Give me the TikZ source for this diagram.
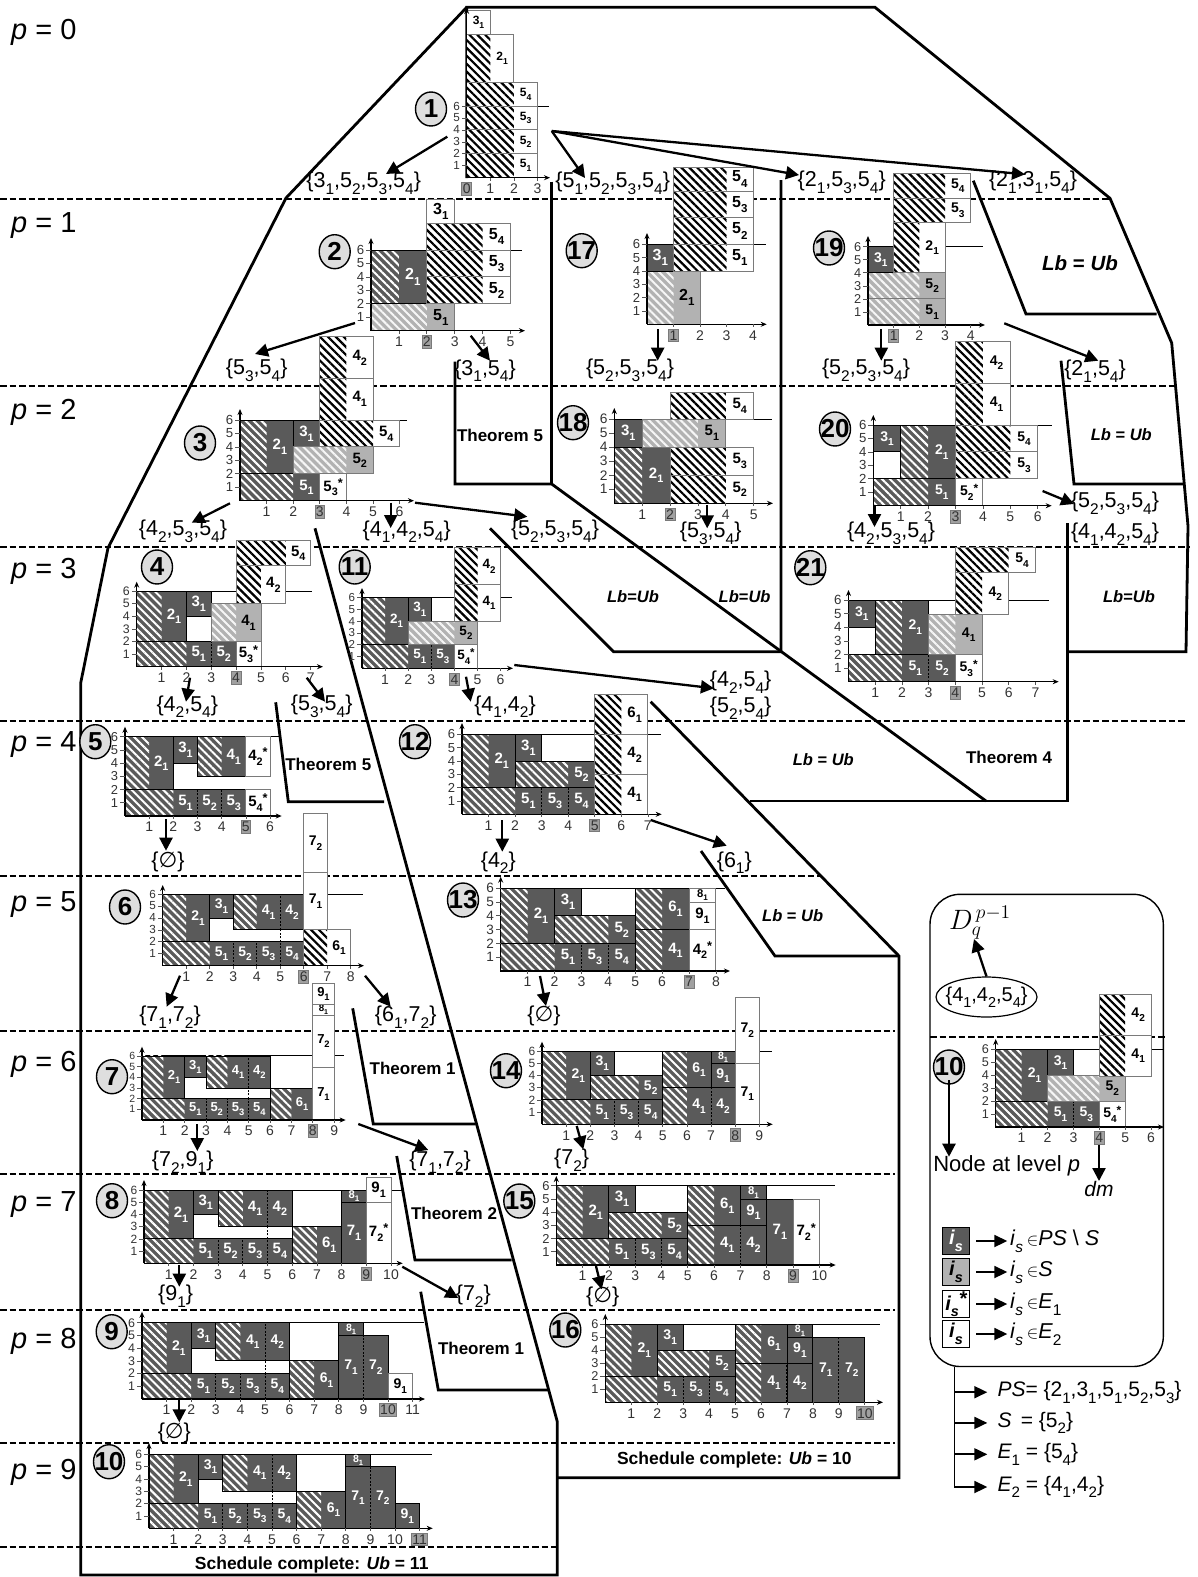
\documentclass[tikz,border=0pt]{standalone}
\usepackage{fontspec}
\setmainfont{Liberation Sans}
\newfontfamily\djf{DejaVu Sans}
\usetikzlibrary{arrows.meta,patterns.meta,shapes.geometric}
\definecolor{dk}{HTML}{5A5A5A}
\definecolor{lt}{HTML}{B2B2B2}
\definecolor{bd}{HTML}{7A7A7A}
\newcounter{nn}
\newcommand\fsz[1]{\fontsize{#1}{#1}\selectfont}
\newcommand\sB[1]{\raisebox{-.32em}{\scalebox{.72}{#1}}}
\newcommand\Emp{{\djf\char"2205}}
\def\stx{}
\def\lbs{14}
% job box: factor, x1,x2,y1,y2,hatch end,a,b
\newcommand\jobb[8]{%
 \fill[\fc] (#2,#4) rectangle (#3,#5);
 \ifdim #6pt>#2pt
  \fill[pattern={Lines[angle=-45,distance=5.6pt,line width=\sw pt]},pattern color=\sc] (#2,#4) rectangle (#6,#5);
 \fi
 \draw[\bc,line width=.9pt] (#2,#4) rectangle (#3,#5);
 \pgfmathsetmacro\fs{\lbs*#1}%
 \stepcounter{nn}%
 \node[inner sep=0pt,text=\tc,font=\fsz{\fs}\bfseries] (n\arabic{nn}) at ({(#6+#3)/2},{(#4+#5)/2}) {#7\sB{#8}\stx};
 \gdef\stx{}%
}
\newcommand\D[7][1]{\def\fc{dk}\def\sc{white}\def\tc{white}\def\bc{black}\def\sw{2}\jobb{#1}{#2}{#3}{#4}{#5}{#6}{#7}}
\newcommand\Lt[7][1]{\def\fc{lt}\def\sc{white!88!lt}\def\tc{black}\def\bc{bd}\def\sw{2}\jobb{#1}{#2}{#3}{#4}{#5}{#6}{#7}}
\newcommand\W[7][1]{\def\fc{white}\def\sc{black}\def\tc{black}\def\bc{bd}\def\sw{2.2}\jobb{#1}{#2}{#3}{#4}{#5}{#6}{#7}}
\newcommand\Ws[6]{\gdef\stx{\raisebox{.25em}{\scalebox{.85}{*}}}\W{#1}{#2}{#3}{#4}{#1}{#5}{#6}}
\newcommand\sep[3]{\draw[dk,line width=1pt] (#1,#2) -- (#1,#3);\draw[black,line width=1pt,dash pattern=on 2pt off 1.5pt] (#1,#2) -- (#1,#3);}
\newcommand\wsep[3]{\draw[black,line width=1pt,dash pattern=on 2pt off 1.5pt] (#1,#2) -- (#1,#3);}
% ox oy ux uy labelsize capend
\newcommand\chartbegin[6]{%
 \def\ox{#1}\def\oy{#2}\def\ux{#3}\def\uy{#4}\def\lbs{#5}%
 \begin{scope}[shift={(#1,#2)},x=#3pt,y=#4pt]
 \draw[black,line width=1pt] (0,6) -- ({(#6-#1)/#3},6);
}
% nmax dm xend ytop
\newcommand\chartend[4]{%
 \pgfmathsetmacro\tf{min(14,\uy*0.98)}%
 \draw[line width=1.5pt,-{Stealth[length=6pt,width=5pt]}] (0,0) -- ({(#3-\ox)/\ux},0);
 \draw[line width=1.5pt,-{Stealth[length=6pt,width=5pt]}] (0,0) -- (0,{(\oy-#4)/\uy});
 \foreach \yy in {1,...,6}{%
  \stepcounter{nn}%
  \draw[bd!70!black,line width=.7pt] (0,\yy) -- ++(-5pt,0) node[left,inner ysep=0pt,inner xsep=1.5pt,text=black!80,font=\fsz{\tf}] (n\arabic{nn}) {\yy};}
 \foreach \xx in {1,...,#1}{%
  \draw[bd!70!black,line width=.7pt] (\xx,0) -- ++(0,-3pt);
  \ifnum\xx=#2\relax\else
  \stepcounter{nn}%
  \node[inner sep=0pt,text=black!80,font=\fsz{14}] (n\arabic{nn}) at ([yshift=-11pt]\xx,0) {\xx};
  \fi}
 \stepcounter{nn}%
 \node[draw=bd,fill=lt!90!black,inner xsep=1pt,inner ysep=1.5pt,line width=.8pt,text=black!80,font=\fsz{14}] (n\arabic{nn}) at ([yshift=-11pt]#2,0) {#2};
 \end{scope}
}
\newcommand\Num[3]{\stepcounter{nn}\node[numc] (n\arabic{nn}) at (#1,#2) {#3};}
\newcommand\SL[3]{\stepcounter{nn}\node[setl] (n\arabic{nn}) at (#1,#2) {#3};}
\newcommand\TL[4]{\stepcounter{nn}\node[inner sep=0pt,font=\fsz{#3}\bfseries] (n\arabic{nn}) at (#1,#2) {#4};}
\newcommand\PL[2]{\stepcounter{nn}\node[anchor=west,inner sep=0pt,font=\fsz{29}] (n\arabic{nn}) at (11,#1) {\textit{p} = #2};}
\newcommand\Ar[4]{\stepcounter{nn}\coordinate (a\arabic{nn}) at (#1,#2);\coordinate (b\arabic{nn}) at (#3,#4);\draw[arr] (a\arabic{nn}) -- (b\arabic{nn});}
\newcommand\Lev[3]{\draw[lev] (#1,#3) -- (#2,#3);}
\newcommand\Sa[2]{#1\sB{#2}}
\begin{document}
\begin{tikzpicture}[x=1pt,y=-1pt,
 lev/.style={line width=1.8pt,dash pattern=on 6.5pt off 3pt},
 wall/.style={line width=2.8pt,line join=miter},
 arr/.style={line width=2.3pt,-{Triangle[length=13pt,width=13pt]}},
 numc/.style={ellipse,draw=black,line width=1.4pt,fill=black!13,minimum width=31pt,minimum height=34pt,inner sep=-5pt,font=\fsz{26}\bfseries},
 setl/.style={inner sep=0pt,font=\fsz{21.5}}]
\useasboundingbox (0,0) rectangle (1197,1577);
\fill[white] (0,0) rectangle (1197,1577);
% levels
\Lev{0}{1110}{199.3}\Lev{0}{1175}{385.7}\Lev{0}{1190}{546.7}\Lev{0}{1187}{720.7}
\Lev{0}{822}{876}\Lev{0}{895}{1031}\Lev{0}{895}{1173.7}\Lev{0}{895}{1310}\Lev{0}{895}{1443.3}\Lev{0}{556}{1546.7}
\Lev{930}{1166}{1037}
\PL{32}{0}\PL{226}{1}\PL{412}{2}\PL{571}{3}\PL{745}{4}\PL{905}{5}\PL{1064}{6}\PL{1205}{7}\PL{1341}{8}\PL{1472}{9}
% walls
\draw[wall] (466.7,178) -- (466.7,7.3) -- (875,7.3) -- (1110,198.3) -- (1171.7,343) -- (1188,526) -- (1186,651.7) -- (1067.4,651.7);
\draw[wall] (466.7,7.3) -- (286,198) -- (108,548) -- (80.7,683) -- (80.7,1575) -- (557.3,1575) -- (557.3,1421.7) -- (315,528.3);
\draw[wall] (973.3,180.7) -- (1026,314) -- (1156.7,314);
\draw[wall] (1061,360.7) -- (1074,484) -- (1183,484);
\draw[wall] (1067.4,523.3) -- (1067.4,801) -- (750,801);
\draw[wall] (455,361.7) -- (455,484) -- (551.7,484) -- (986,801);
\draw[wall] (551.3,181.7) -- (551.3,484);
\draw[wall] (781,180) -- (781,651.7) -- (613.5,651.7) -- (490,528.3);
\draw[wall] (275.7,702.3) -- (288.3,801.7) -- (384,801.7);
\draw[wall] (352.7,1008.3) -- (373.3,1124) -- (475.7,1124);
\draw[wall] (396.7,1156) -- (415,1260) -- (511.7,1260);
\draw[wall] (420.7,1291.7) -- (438.3,1390) -- (548.3,1390);
\draw[wall] (650.7,701.7) -- (899,956) -- (899,1477.7) -- (556.7,1477.7);
\draw[wall] (701,851) -- (775,956) -- (899,956);
% chart 1
\chartbegin{466.7}{177.7}{23.6}{11.95}{12}{549}
\W{0}{3}{0}{2}{2}{5}{1}\W{0}{3}{2}{4}{2}{5}{2}\W{0}{3}{4}{6}{2}{5}{3}\W{0}{3}{6}{8}{2}{5}{4}
\W{0}{2}{8}{12}{1}{2}{1}\W{0}{1}{12}{14}{0}{3}{1}
\chartend{3}{0}{550}{8}
% chart 2
\chartbegin{371}{330.7}{27.9}{13.44}{16}{522}
\Lt{0}{3}{0}{2}{2}{5}{1}\D{0}{2}{2}{6}{1}{2}{1}\W{2}{5}{2}{4}{4}{5}{2}\W{2}{5}{4}{6}{4}{5}{3}\W{2}{5}{6}{8}{4}{5}{4}\W{2}{3}{8}{9.8}{2}{3}{1}
\chartend{5}{2}{525}{238}
% chart 3
\chartbegin{240}{500.7}{26.6}{13.44}{15}{407}
\D{0}{3}{0}{2}{2}{5}{1}\Ws{3}{4}{0}{2}{5}{3}\D{0}{2}{2}{6}{1}{2}{1}\D{2}{3}{4}{6}{2}{3}{1}\Lt{2}{5}{2}{4}{4}{5}{2}
\W{3}{6}{4}{6}{5}{5}{4}\W{3}{5}{6}{9.1}{4}{4}{1}\W{3}{5}{9.1}{12.2}{4}{4}{2}
\chartend{6}{3}{414}{409}
% chart 4
\chartbegin{136.7}{666.7}{24.85}{12.6}{15}{311.7}
\D{0}{3}{0}{2}{2}{5}{1}\D{3}{4}{0}{2}{3}{5}{2}\sep{3}{0}{2}\Ws{4}{5}{0}{2}{5}{3}\D{0}{2}{2}{6}{1}{2}{1}\D{2}{3}{4}{6}{2}{3}{1}
\Lt{3}{5}{2}{5}{4}{4}{1}\W{4}{6}{5}{8}{5}{4}{2}\W{4}{7}{8}{10}{6}{5}{4}
\chartend{7}{4}{323}{581.7}
% chart 11
\chartbegin{362}{668.3}{23.1}{11.8}{13.5}{512}
\D{0}{3}{0}{2}{2}{5}{1}\D{3}{4}{0}{2}{3}{5}{3}\sep{3}{0}{2}\Ws{4}{5}{0}{2}{5}{4}\D{0}{2}{2}{6}{1}{2}{1}\D{2}{3}{4}{6}{2}{3}{1}
\Lt{2}{5}{2}{4}{4}{5}{2}\W{4}{6}{4}{7.1}{5}{4}{1}\W{4}{6}{7.1}{10.2}{5}{4}{2}
\chartend{6}{4}{513}{588}
% chart 5
\chartbegin{125}{816}{24.17}{13.2}{15}{280}
\D{0}{3}{0}{2}{2}{5}{1}\D{3}{4}{0}{2}{3}{5}{2}\D{4}{5}{0}{2}{4}{5}{3}\sep{3}{0}{2}\sep{4}{0}{2}\Ws{5}{6}{0}{2}{5}{4}
\D{0}{2}{2}{6}{1}{2}{1}\D{2}{3}{4}{6}{2}{3}{1}\D{3}{5}{3}{6}{4}{4}{1}\Ws{5}{6}{3}{6}{4}{2}
\chartend{6}{5}{281.7}{726.7}
% chart 12
\chartbegin{462}{814.3}{26.55}{13.3}{15}{661}
\D{0}{3}{0}{2}{2}{5}{1}\D{3}{4}{0}{2}{3}{5}{3}\D{4}{5}{0}{2}{4}{5}{4}\sep{3}{0}{2}\sep{4}{0}{2}\D{0}{2}{2}{6}{1}{2}{1}\D{2}{3}{4}{6}{2}{3}{1}\D{2}{5}{2}{4}{4}{5}{2}
\W{5}{7}{0}{3}{6}{4}{1}\W{5}{7}{3}{6}{6}{4}{2}\W{5}{7}{6}{9}{6}{6}{1}
\chartend{7}{5}{661.7}{723}
% chart 6
\chartbegin{162.7}{965.7}{23.5}{11.94}{14}{362.7}
\D{0}{3}{0}{2}{2}{5}{1}\D{3}{4}{0}{2}{3}{5}{2}\D{4}{5}{0}{2}{4}{5}{3}\D{5}{6}{0}{2}{5}{5}{4}\sep{3}{0}{2}\sep{4}{0}{2}\sep{5}{0}{2}
\D{0}{2}{2}{6}{1}{2}{1}\D{2}{3}{4}{6}{2}{3}{1}\D{3}{5}{3}{6}{4}{4}{1}\D{5}{6}{3}{6}{5}{4}{2}\sep{5}{3}{6}\wsep{5}{2}{3}
\W{6}{8}{0}{3}{7}{6}{1}\W{6}{7}{3}{7.8}{6}{7}{1}\W{6}{7}{7.8}{12.76}{6}{7}{2}
\chartend{8}{6}{364}{885}
% chart 13
\chartbegin{500.7}{971}{26.9}{13.8}{15}{725}
\D{0}{3}{0}{2}{2}{5}{1}\D{3}{4}{0}{2}{3}{5}{3}\D{4}{5}{0}{2}{4}{5}{4}\sep{3}{0}{2}\sep{4}{0}{2}\D{0}{2}{2}{6}{1}{2}{1}\D{2}{3}{4}{6}{2}{3}{1}\D{2}{5}{2}{4}{4}{5}{2}
\D{5}{7}{0}{3}{6}{4}{1}\D{5}{7}{3}{6}{6}{6}{1}\Ws{7}{8}{0}{3}{4}{2}\W{7}{8}{3}{5}{7}{9}{1}\W[.75]{7}{8}{5}{6}{7}{8}{1}
\chartend{8}{7}{730}{876.7}
% chart 7
\chartbegin{142}{1120}{21.35}{10.67}{13}{344}
\D{0}{3}{0}{2}{2}{5}{1}\D{3}{4}{0}{2}{3}{5}{2}\D{4}{5}{0}{2}{4}{5}{3}\D{5}{6}{0}{2}{5}{5}{4}\sep{3}{0}{2}\sep{4}{0}{2}\sep{5}{0}{2}
\D{0}{2}{2}{6}{1}{2}{1}\D{2}{3}{4}{6}{2}{3}{1}\D{3}{5}{3}{6}{4}{4}{1}\D{5}{6}{3}{6}{5}{4}{2}\sep{5}{3}{6}\wsep{5}{2}{3}\D{6}{8}{0}{3}{7}{6}{1}
\W{8}{9}{0}{4.9}{8}{7}{1}\W{8}{9}{4.9}{9.84}{8}{7}{2}\W[.75]{8}{9}{9.84}{10.8}{8}{8}{1}\W{8}{9}{10.8}{12.8}{8}{9}{1}
\chartend{9}{8}{345.7}{1046.7}
% chart 14
\chartbegin{542}{1124.3}{24.15}{12.2}{14}{772}
\D{0}{3}{0}{2}{2}{5}{1}\D{3}{4}{0}{2}{3}{5}{3}\D{4}{5}{0}{2}{4}{5}{4}\sep{3}{0}{2}\sep{4}{0}{2}\D{0}{2}{2}{6}{1}{2}{1}\D{2}{3}{4}{6}{2}{3}{1}\D{2}{5}{2}{4}{4}{5}{2}
\D{5}{7}{0}{3}{6}{4}{1}\D{7}{8}{0}{3}{7}{4}{2}\sep{7}{0}{3}\D{5}{7}{3}{6}{6}{6}{1}\D{7}{8}{3}{5}{7}{9}{1}\D[.75]{7}{8}{5}{6}{7}{8}{1}
\W{8}{9}{0}{5}{8}{7}{1}\W{8}{9}{5}{10.4}{8}{7}{2}
\chartend{9}{8}{772.7}{1041.7}
% chart 8
\chartbegin{144}{1263.3}{24.7}{12.2}{15}{401.7}
\D{0}{3}{0}{2}{2}{5}{1}\D{3}{4}{0}{2}{3}{5}{2}\D{4}{5}{0}{2}{4}{5}{3}\D{5}{6}{0}{2}{5}{5}{4}\sep{3}{0}{2}\sep{4}{0}{2}\sep{5}{0}{2}
\D{0}{2}{2}{6}{1}{2}{1}\D{2}{3}{4}{6}{2}{3}{1}\D{3}{5}{3}{6}{4}{4}{1}\D{5}{6}{3}{6}{5}{4}{2}\sep{5}{3}{6}\wsep{5}{2}{3}\D{6}{8}{0}{3}{7}{6}{1}
\D{8}{9}{0}{5}{8}{7}{1}\D[.75]{8}{9}{5}{6}{8}{8}{1}\Ws{9}{10}{0}{5}{7}{2}\W{9}{10}{5}{7}{9}{9}{1}
\chartend{10}{9}{402.7}{1180}
% chart 15
\chartbegin{556.3}{1265}{26.3}{13.2}{15}{835}
\D{0}{3}{0}{2}{2}{5}{1}\D{3}{4}{0}{2}{3}{5}{3}\D{4}{5}{0}{2}{4}{5}{4}\sep{3}{0}{2}\sep{4}{0}{2}\D{0}{2}{2}{6}{1}{2}{1}\D{2}{3}{4}{6}{2}{3}{1}\D{2}{5}{2}{4}{4}{5}{2}
\D{5}{7}{0}{3}{6}{4}{1}\D{7}{8}{0}{3}{7}{4}{2}\sep{7}{0}{3}\D{5}{7}{3}{6}{6}{6}{1}\D{7}{8}{3}{5}{7}{9}{1}\D[.75]{7}{8}{5}{6}{7}{8}{1}
\D{8}{9}{0}{5}{8}{7}{1}\Ws{9}{10}{0}{5}{7}{2}
\chartend{10}{9}{835.7}{1176}
% chart 9
\chartbegin{142}{1399}{24.6}{12.7}{14}{424}
\D{0}{3}{0}{2}{2}{5}{1}\D{3}{4}{0}{2}{3}{5}{2}\D{4}{5}{0}{2}{4}{5}{3}\D{5}{6}{0}{2}{5}{5}{4}\sep{3}{0}{2}\sep{4}{0}{2}\sep{5}{0}{2}
\D{0}{2}{2}{6}{1}{2}{1}\D{2}{3}{4}{6}{2}{3}{1}\D{3}{5}{3}{6}{4}{4}{1}\D{5}{6}{3}{6}{5}{4}{2}\sep{5}{3}{6}\wsep{5}{2}{3}\D{6}{8}{0}{3}{7}{6}{1}
\D{8}{9}{0}{5}{8}{7}{1}\D[.75]{8}{9}{5}{6}{8}{8}{1}\D{9}{10}{0}{5}{9}{7}{2}\sep{9}{0}{5}\W{10}{11}{0}{2}{10}{9}{1}
\chartend{11}{10}{425}{1311.7}
% chart 10
\chartbegin{149}{1528.3}{24.6}{12.33}{14}{432}
\D{0}{3}{0}{2}{2}{5}{1}\D{3}{4}{0}{2}{3}{5}{2}\D{4}{5}{0}{2}{4}{5}{3}\D{5}{6}{0}{2}{5}{5}{4}\sep{3}{0}{2}\sep{4}{0}{2}\sep{5}{0}{2}
\D{0}{2}{2}{6}{1}{2}{1}\D{2}{3}{4}{6}{2}{3}{1}\D{3}{5}{3}{6}{4}{4}{1}\D{5}{6}{3}{6}{5}{4}{2}\sep{5}{3}{6}\wsep{5}{2}{3}\D{6}{8}{0}{3}{7}{6}{1}
\D{8}{9}{0}{5}{8}{7}{1}\D[.75]{8}{9}{5}{6}{8}{8}{1}\D{9}{10}{0}{5}{9}{7}{2}\sep{9}{0}{5}\D{10}{11}{0}{2}{10}{9}{1}
\chartend{11}{11}{432.7}{1443}
% chart 16
\chartbegin{605.3}{1402.3}{25.95}{13}{14}{880}
\D{0}{3}{0}{2}{2}{5}{1}\D{3}{4}{0}{2}{3}{5}{3}\D{4}{5}{0}{2}{4}{5}{4}\sep{3}{0}{2}\sep{4}{0}{2}\D{0}{2}{2}{6}{1}{2}{1}\D{2}{3}{4}{6}{2}{3}{1}\D{2}{5}{2}{4}{4}{5}{2}
\D{5}{7}{0}{3}{6}{4}{1}\D{7}{8}{0}{3}{7}{4}{2}\sep{7}{0}{3}\D{5}{7}{3}{6}{6}{6}{1}\D{7}{8}{3}{5}{7}{9}{1}\D[.75]{7}{8}{5}{6}{7}{8}{1}
\D{8}{9}{0}{5}{8}{7}{1}\D{9}{10}{0}{5}{9}{7}{2}\sep{9}{0}{5}
\chartend{10}{10}{883}{1314}
% chart 17
\chartbegin{647}{324.3}{26.5}{13.33}{16}{766}
\Lt{0}{2}{0}{4}{1}{2}{1}\D{0}{1}{4}{6}{0}{3}{1}\W{1}{4}{4}{6}{3}{5}{1}\W{1}{4}{6}{8}{3}{5}{2}\W{1}{4}{8}{10}{3}{5}{3}\W{1}{4}{10}{11.8}{3}{5}{4}
\chartend{4}{1}{766.7}{233}
% chart 18
\chartbegin{614.3}{503.3}{27.87}{14.05}{15}{772}
\D{0}{2}{0}{4}{1}{2}{1}\D{0}{1}{4}{6}{0}{3}{1}\Lt{1}{4}{4}{6}{3}{5}{1}\W{2}{5}{0}{2}{4}{5}{2}\W{2}{5}{2}{4}{4}{5}{3}\W{2}{5}{6}{7.9}{4}{5}{4}
\chartend{5}{2}{773}{408}
% chart 19
\chartbegin{868}{325}{25.67}{13.05}{14}{982.7}
\Lt{0}{3}{0}{2}{2}{5}{1}\Lt{0}{3}{2}{4}{2}{5}{2}\D{0}{1}{4}{6}{0}{3}{1}\W{1}{3}{4}{7.84}{2}{2}{1}\W{1}{4}{7.84}{9.72}{3}{5}{3}\W{1}{4}{9.72}{11.6}{3}{5}{4}
\chartend{4}{1}{985}{236}
% chart 20
\chartbegin{873.3}{505.7}{27.4}{13.44}{14}{1052.4}
\D{0}{3}{0}{2}{2}{5}{1}\Ws{3}{4}{0}{2}{5}{2}\D{0}{1}{4}{6}{0}{3}{1}\D{1}{3}{2}{6}{2}{2}{1}\W{3}{6}{2}{4}{5}{5}{3}\W{3}{6}{4}{6}{5}{5}{4}\W{3}{5}{6}{9.1}{4}{4}{1}\W{3}{5}{9.1}{12.2}{4}{4}{2}
\chartend{6}{3}{1051.7}{415}
% chart 21
\chartbegin{848.5}{681.7}{26.7}{13.6}{14}{1049.3}
\D{0}{3}{0}{2}{2}{5}{1}\D{3}{4}{0}{2}{3}{5}{2}\sep{3}{0}{2}\Ws{4}{5}{0}{2}{5}{3}\D{0}{1}{4}{6}{0}{3}{1}\D{1}{3}{2}{6}{2}{2}{1}\Lt{3}{5}{2}{4.95}{4}{4}{1}\W{4}{6}{4.95}{8}{5}{4}{2}\W{4}{7}{8}{9.85}{6}{5}{4}
\chartend{7}{4}{1058.7}{590}
% legend chart
\chartbegin{995.7}{1127}{25.9}{12.93}{14}{1163}
\D{0}{3}{0}{2}{2}{5}{1}\D{3}{4}{0}{2}{3}{5}{3}\sep{3}{0}{2}\Ws{4}{5}{0}{2}{5}{4}\D{0}{2}{2}{6}{1}{2}{1}\D{2}{3}{4}{6}{2}{3}{1}\Lt{2}{5}{2}{4}{4}{5}{2}\W{4}{6}{3.94}{7.1}{5}{4}{1}\W{4}{6}{7.1}{10.26}{5}{4}{2}
\chartend{6}{4}{1164}{1039}
% arrows
\Ar{447.3}{136.7}{386}{174}\Ar{551.7}{131}{585}{178}\Ar{551.7}{131}{799}{175}\Ar{551.7}{131}{1025}{174.3}
\Ar{355}{323}{255}{354}\Ar{470.7}{335.7}{490}{360.7}\Ar{657.7}{329.3}{657.7}{360.7}\Ar{881.3}{329.3}{881.3}{360.7}\Ar{1004.3}{323.3}{1098.3}{360.7}
\Ar{230}{503.3}{191.7}{522.7}\Ar{390.7}{502.7}{390.7}{528}\Ar{415}{502.7}{527.3}{516.7}
\Ar{707.2}{505}{707.2}{528.3}\Ar{874.5}{506}{874.5}{527}\Ar{1042.6}{491}{1074}{504}
\Ar{190}{677.7}{186}{701.7}\Ar{306.7}{677.7}{325}{701.7}\Ar{466}{676.7}{470.7}{701.7}\Ar{514.3}{665}{713.9}{688.3}
\Ar{166}{819.3}{166}{850.7}\Ar{502.3}{820}{502.3}{851.7}\Ar{650.7}{820}{726.7}{845.7}
\Ar{180}{975.7}{166.7}{1006.7}\Ar{365}{975.7}{390.7}{1006.7}\Ar{540}{976}{546}{1006}
\Ar{197.3}{1124}{197.3}{1151}\Ar{358.3}{1124}{428.3}{1150}\Ar{576.7}{1126}{583.3}{1149.3}
\Ar{179.3}{1265}{179.3}{1286.7}\Ar{402.3}{1266.7}{458.3}{1298}\Ar{596}{1266}{601.7}{1289.3}\Ar{179.3}{1400}{179.3}{1422.3}
% set labels
\SL{363.7}{183}{\{\Sa31,\Sa52,\Sa53,\Sa54\}}
\SL{612.7}{183}{\{\Sa51,\Sa52,\Sa53,\Sa54\}}
\SL{841.7}{182.3}{\{\Sa21,\Sa53,\Sa54\}}
\SL{1033}{182.3}{\{\Sa21,\Sa31,\Sa54\}}
\SL{256.7}{370.7}{\{\Sa53,\Sa54\}}
\SL{485}{370.7}{\{\Sa31,\Sa54\}}
\SL{630}{370}{\{\Sa52,\Sa53,\Sa54\}}
\SL{866}{370.7}{\{\Sa52,\Sa53,\Sa54\}}
\SL{1095}{371}{\{\Sa21,\Sa54\}}
\SL{183}{531.7}{\{\Sa42,\Sa53,\Sa54\}}
\SL{406.7}{531.7}{\{\Sa41,\Sa42,\Sa54\}}
\SL{555}{531.7}{\{\Sa52,\Sa53,\Sa54\}}
\SL{710.7}{533}{\{\Sa53,\Sa54\}}
\SL{891}{533}{\{\Sa42,\Sa53,\Sa54\}}
\SL{1115}{503}{\{\Sa52,\Sa53,\Sa54\}}
\SL{1115}{534.3}{\{\Sa41,\Sa42,\Sa54\}}
\SL{187.3}{706.7}{\{\Sa42,\Sa54\}}
\SL{321.7}{706.7}{\{\Sa53,\Sa54\}}
\SL{505}{706.7}{\{\Sa41,\Sa42\}}
\SL{740.6}{682.3}{\{\Sa42,\Sa54\}}
\SL{740.6}{708.3}{\{\Sa52,\Sa54\}}
\SL{168}{861.7}{\{\Emp\}}
\SL{498.3}{862.7}{\{\Sa42\}}
\SL{734.3}{862.7}{\{\Sa61\}}
\SL{170}{1017.3}{\{\Sa71,\Sa72\}}
\SL{405.7}{1017.3}{\{\Sa61,\Sa72\}}
\SL{544}{1016}{\{\Emp\}}
\SL{182.7}{1162.3}{\{\Sa72,\Sa91\}}
\SL{440}{1162.3}{\{\Sa71,\Sa72\}}
\SL{571.7}{1160}{\{\Sa72\}}
\SL{175.7}{1296}{\{\Sa91\}}
\SL{473.3}{1296}{\{\Sa72\}}
\SL{602.7}{1296.7}{\{\Emp\}}
\SL{174.3}{1432.7}{\{\Emp\}}
% numbered circles
\Num{431}{109}{1}\Num{334.7}{251.7}{2}\Num{581.7}{250.7}{17}\Num{829}{248}{19}\Num{200}{443}{3}\Num{573}{422.7}{18}\Num{835}{429}{20}
\Num{157}{567}{4}\Num{354.7}{567}{11}\Num{810.3}{567.7}{21}\Num{95.3}{741.7}{5}\Num{415}{741.7}{12}\Num{125}{907}{6}\Num{463}{900}{13}
\Num{112}{1076.7}{7}\Num{506}{1070.7}{14}\Num{112}{1200.7}{8}\Num{519.3}{1201}{15}\Num{111.7}{1331.7}{9}\Num{565.3}{1330}{16}\Num{109}{1461.7}{10}
% bold texts
\TL{1080}{263.3}{20.5}{\textit{Lb} = \textit{Ub}}
\TL{1121.3}{435}{16.5}{\textit{Lb} = \textit{Ub}}
\TL{633}{596.7}{16.5}{\textit{Lb}=\textit{Ub}}
\TL{744.6}{596.7}{16.5}{\textit{Lb}=\textit{Ub}}
\TL{1129}{596.7}{16.5}{\textit{Lb}=\textit{Ub}}
\TL{823.3}{759.3}{16.5}{\textit{Lb} = \textit{Ub}}
\TL{792.7}{915.3}{16.5}{\textit{Lb} = \textit{Ub}}
\TL{500}{435}{17}{Theorem 5}
\TL{1009}{757.5}{17}{Theorem 4}
\TL{328.3}{764.3}{17}{Theorem 5}
\TL{412.7}{1068.3}{17}{Theorem 1}
\TL{454}{1213.3}{17}{Theorem 2}
\TL{481}{1348.3}{17}{Theorem 1}
\TL{311.7}{1565}{17.5}{Schedule complete: \textit{Ub} = 11}
\TL{734.3}{1460}{17.5}{Schedule complete: \textit{Ub} = 10}
% legend
\draw[line width=1.4pt,rounded corners=30pt] (930,894.3) rectangle (1163.3,1366.5);
\Num{949}{1067}{10}
\stepcounter{nn}\node[inner sep=0pt,font=\fsz{20}] (n\arabic{nn}) at (980,923) {\scalebox{1.35}{$D_q^{\,p-1}$}};
\node[ellipse,draw,line width=1.2pt,minimum width=101pt,minimum height=40pt,inner sep=0pt,font=\fsz{20}] (ell) at (986.5,997) {\makebox[40pt][c]{\{\Sa41,\Sa42,\Sa54\}}};
\coordinate (dq) at (974,939);
\draw[arr] (ell.north) -- (dq);
\Ar{949}{1080}{949}{1156.7}
\Ar{1099}{1145}{1099}{1181}
\stepcounter{nn}\node[inner sep=0pt,font=\fsz{22}] (n\arabic{nn}) at (1006.7,1166) {Node at level \textit{p}};
\stepcounter{nn}\node[inner sep=0pt,font=\fsz{21}\itshape] (n\arabic{nn}) at (1099,1189) {dm};
% key
\foreach \yy/\cc/\tt/\st in {1241/dk/white/,1272/lt/black/,1304/white/black/*,1334/white/black/}{%
 \stepcounter{nn}%
 \node[draw,line width=1.2pt,fill=\cc,text=\tt,minimum width=26.5pt,minimum height=26.5pt,inner sep=0pt,font=\fsz{20}\bfseries\itshape] (n\arabic{nn}) at (956,\yy) {i\sB{s}\ifx\st\empty\else\raisebox{.25em}{*}\fi};
 \stepcounter{nn}\coordinate (k\arabic{nn}) at (976,\yy);\coordinate (l\arabic{nn}) at (1007.3,\yy);
 \draw[line width=1.8pt,-{Triangle[length=13pt,width=12pt]}] (k\arabic{nn}) -- (l\arabic{nn});
}
\newcommand\KL[2]{\stepcounter{nn}\node[anchor=west,inner sep=0pt,font=\fsz{21.5}] (n\arabic{nn}) at (1010,#1) {\textit{i}\sB{\textit{s}}\,{\fsz{17}$\in$}#2};}
\KL{1241}{\textit{PS} \textbackslash{} \textit{S}}
\KL{1272}{\textit{S}}
\KL{1304}{\textit{E}\sB{1}}
\KL{1334}{\textit{E}\sB{2}}
\coordinate (ba) at (954.3,1366.5);\coordinate (bb) at (954.3,1487);
\draw[line width=1.2pt] (ba) -- (bb);
\foreach \yy in {1392.2,1422.9,1454.3,1487}{%
 \stepcounter{nn}\coordinate (k\arabic{nn}) at (954.3,\yy);\coordinate (l\arabic{nn}) at (987.3,\yy);
 \draw[line width=1.8pt,-{Triangle[length=13pt,width=12pt]}] (k\arabic{nn}) -- (l\arabic{nn});
}
\newcommand\BL[2]{\stepcounter{nn}\node[anchor=west,inner sep=0pt,font=\fsz{21}] (n\arabic{nn}) at (997.3,#1) {#2};}
\BL{1392.2}{\textit{PS}= \{\Sa21,\Sa31,\Sa51,\Sa52,\Sa53\}}
\BL{1422.9}{\textit{S}\, = \{\Sa52\}}
\BL{1454.3}{\textit{E}\sB{1} = \{\Sa54\}}
\BL{1487}{\textit{E}\sB{2} = \{\Sa41,\Sa42\}}
\end{tikzpicture}
\end{document}
